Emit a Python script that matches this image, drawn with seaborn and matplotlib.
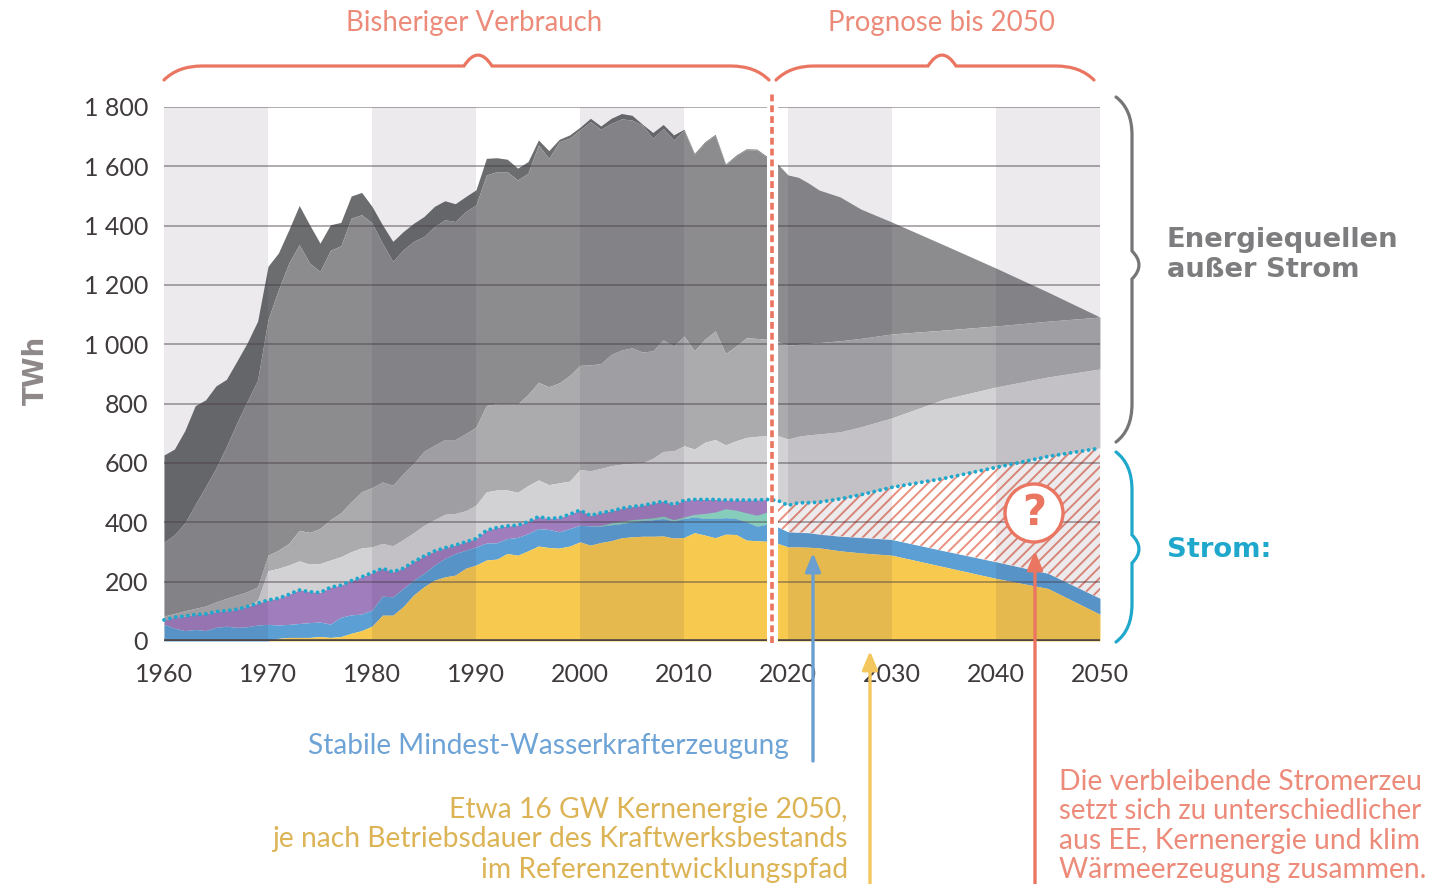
import numpy as np
import pandas as pd
import matplotlib
matplotlib.use('Agg')
import matplotlib.pyplot as plt
from matplotlib.path import Path
from matplotlib.patches import PathPatch, Circle
import seaborn as sns

# values, TWh, cumulative boundaries
hist_years = list(range(1960, 2019))
hist_total = [627, 647, 709, 793, 813, 860, 882, 943, 1005, 1078,
              1263, 1308, 1386, 1468, 1403, 1341, 1403, 1411, 1500, 1512,
              1465, 1403, 1347, 1380, 1408, 1431, 1465, 1484, 1474, 1498,
              1521, 1627, 1629, 1624, 1594, 1616, 1689, 1653, 1691, 1706,
              1732, 1762, 1736, 1762, 1778, 1772, 1742, 1714, 1741, 1706,
              1725, 1644, 1683, 1708, 1608, 1638, 1659, 1658, 1633]
hist_dark = [333, 358, 398, 460, 521, 583, 656, 735, 808, 880,
             1083, 1184, 1274, 1336, 1274, 1246, 1317, 1332, 1425, 1437,
             1409, 1341, 1280, 1319, 1347, 1364, 1397, 1420, 1414, 1448,
             1470, 1571, 1582, 1582, 1554, 1577, 1672, 1627, 1683, 1695,
             1723, 1751, 1725, 1745, 1760, 1756, 1739, 1695, 1728, 1689,
             1722, 1641, 1680, 1705, 1605, 1635, 1656, 1655, 1630]
hist_mid = [84, 93, 102, 110, 118, 132, 144, 155, 166, 183,
            289, 306, 329, 373, 366, 379, 409, 432, 469, 503,
            517, 536, 525, 564, 598, 640, 660, 679, 679, 699,
            721, 794, 800, 801, 798, 831, 872, 857, 870, 895,
            929, 931, 935, 966, 981, 988, 974, 978, 1015, 994,
            1028, 978, 1017, 1045, 969, 994, 1022, 1020, 1017]
hist_light = [71, 80, 84, 89, 91, 99, 102, 107, 116, 138,
              237, 245, 256, 270, 259, 261, 273, 284, 301, 314,
              317, 329, 321, 342, 365, 390, 409, 427, 430, 439,
              458, 503, 509, 509, 501, 524, 543, 527, 533, 539,
              578, 574, 582, 591, 596, 599, 600, 616, 639, 641,
              658, 647, 670, 679, 661, 675, 686, 690, 692]
hist_strom = [71, 80, 84, 89, 91, 99, 102, 107, 116, 127,
              138, 144, 157, 172, 166, 163, 181, 188, 203, 216,
              230, 245, 233, 245, 267, 286, 303, 314, 323, 334,
              345, 373, 382, 388, 390, 402, 419, 413, 415, 427,
              441, 423, 432, 438, 447, 453, 457, 464, 471, 460,
              474, 477, 477, 477, 475, 475, 475, 475, 477]
hist_hydro = [56, 43, 35, 39, 35, 46, 50, 46, 48, 54,
              56, 54, 56, 59, 62, 64, 57, 80, 88, 91,
              104, 151, 149, 177, 205, 228, 256, 278, 295, 306,
              317, 330, 331, 345, 349, 362, 379, 376, 368, 379,
              390, 388, 388, 392, 396, 402, 407, 409, 413, 405,
              413, 418, 413, 413, 416, 413, 402, 387, 394]
hist_nuclear = [0, 0, 0, 0, 0, 0, 0, 0, 0, 0,
                0, 9, 12, 12, 12, 15, 12, 15, 26, 35,
                50, 87, 87, 116, 155, 183, 205, 216, 222, 245,
                256, 273, 276, 295, 289, 304, 320, 315, 313, 320,
                334, 323, 332, 338, 348, 351, 353, 353, 354, 347,
                349, 365, 357, 348, 360, 359, 340, 338, 336]
renew_years = list(range(2000, 2019))
renew_top = [390, 388, 390, 398, 404, 409, 412, 415, 421, 409,
             418, 427, 430, 435, 446, 441, 432, 424, 435]

fc_years = [2019, 2020, 2021, 2022, 2023, 2025, 2027, 2030, 2035, 2040, 2045, 2050]
fc_total = [1608, 1571, 1563, 1543, 1520, 1497, 1456, 1412, 1335, 1257, 1176, 1092]
fc_mid = [1009, 997, 1000, 1003, 1006, 1012, 1020, 1035, 1048, 1062, 1078, 1092]
fc_light = [692, 681, 690, 695, 698, 705, 722, 752, 815, 856, 890, 917]
fc_strom = [474, 457, 466, 466, 468, 479, 493, 518, 548, 585, 622, 650]
fc_hydro = [385, 368, 366, 365, 360, 353, 349, 342, 304, 267, 228, 144]
fc_nuclear = [329, 317, 317, 316, 314, 304, 297, 289, 250, 211, 177, 90]

y_ticks = [0, 200, 400, 600, 800, 1000, 1200, 1400, 1600, 1800]
y_labels = ['0', '200', '400', '600', '800', '1 000', '1 200', '1 400', '1 600', '1 800']
x_ticks = [1960, 1970, 1980, 1990, 2000, 2010, 2020, 2030, 2040, 2050]
band_starts = [1960, 1980, 2000, 2020, 2040]

DARKEST = '#6b6d6f'
DARK = '#8c8c8e'
MID = '#ababad'
LIGHT = '#d2d1d3'
PURPLE = '#a07dbd'
TEAL = '#86cdbb'
BLUE = '#5b9fd4'
YELLOW = '#f7c94f'
RED = '#ea7560'
RED_TEXT = '#ec8b7a'
CYAN = '#1fa8cb'
TICK = '#3f3a3c'
W, H = 1429, 884

sns.set_theme(style='white')
plt.rcParams['font.family'] = ['Lato', 'DejaVu Sans']
plt.rcParams['hatch.linewidth'] = 1.4

fig = plt.figure(figsize=(W / 100, H / 100), dpi=100)
ax = fig.add_axes([164 / W, 1 - 641 / H, 936 / W, 534 / H])
ax.set_xlim(1960, 2050)
ax.set_ylim(0, 1800)

# historical stack
hist_layers = [(hist_total, hist_dark, DARKEST), (hist_dark, hist_mid, DARK),
               (hist_mid, hist_light, MID), (hist_light, hist_strom, LIGHT),
               (hist_strom, hist_hydro, PURPLE), (hist_hydro, hist_nuclear, BLUE),
               (hist_nuclear, [0] * len(hist_years), YELLOW)]
for upper, lower, color in hist_layers:
    ax.fill_between(hist_years, lower, upper, color=color, lw=0, zorder=1)
ax.fill_between(renew_years, hist_hydro[-len(renew_years):], renew_top, color=TEAL, lw=0, zorder=1.1)

# forecast stack
fc_layers = [(fc_total, fc_mid, DARK), (fc_mid, fc_light, MID), (fc_light, fc_strom, LIGHT),
             (fc_hydro, fc_nuclear, BLUE), (fc_nuclear, [0] * len(fc_years), YELLOW)]
for upper, lower, color in fc_layers:
    ax.fill_between(fc_years, lower, upper, color=color, lw=0, zorder=1)
ax.fill_between(fc_years, fc_hydro, fc_strom, facecolor='white', edgecolor='#e88f7e',
                hatch='///', lw=0, zorder=1)

# alternating decades lie over the areas
for start in band_starts:
    ax.axvspan(start, start + 10, color='#30203a', alpha=0.09, lw=0, zorder=2)

for tick in y_ticks[1:]:
    ax.axhline(tick, color='#463c46', alpha=0.5, lw=1.2, zorder=3)
ax.axhline(0, color='#4d4444', lw=2.6, zorder=3)

# gap between history and forecast
ax.axvspan(2018, 2019, color='white', lw=0, zorder=4)

strom_df = pd.DataFrame({'year': hist_years + fc_years, 'strom': hist_strom + fc_strom})
sns.lineplot(data=strom_df, x='year', y='strom', ax=ax, color=CYAN, lw=2.8, estimator=None,
             linestyle=(0, (0.01, 1.55)), dash_capstyle='round', zorder=5, clip_on=False)

ax.axvline(2018.5, ymin=-0.003, ymax=1.03, color=RED, lw=2.6, linestyle=(0, (1.9, 1.1)),
           zorder=6, clip_on=False)

ax.set_xticks(x_ticks)
ax.set_yticks(y_ticks)
ax.set_yticklabels(y_labels)
ax.tick_params(axis='both', length=0, labelsize=18, labelcolor=TICK)
ax.tick_params(axis='x', pad=15.7)
ax.tick_params(axis='y', pad=11.5)
ax.set_xlabel('')
ax.set_ylabel('')
sns.despine(ax=ax, left=True, bottom=True)

# annotations in picture pixels
ov = fig.add_axes([0, 0, 1, 1], zorder=10)
ov.set_xlim(0, W)
ov.set_ylim(H, 0)
ov.set_axis_off()
ov.patch.set_alpha(0)


def curve(points, color, lw=2.3):
    codes = [Path.MOVETO] + [Path.CURVE3 if p[2] else Path.LINETO for p in points[1:]]
    verts = [(p[0], p[1]) for p in points]
    ov.add_patch(PathPatch(Path(verts, codes), fc='none', ec=color, lw=lw, capstyle='round'))


def top_brace(x0, x1, tip, color=RED):
    y0, y1 = 80, 66
    curve([(x0, y0, 0), (x0 + 14, y1, 1), (x0 + 38, y1, 1), (tip - 14, y1, 0), (tip, y1 - 22, 1),
           (tip + 14, y1, 1), (x1 - 38, y1, 0), (x1 - 14, y1, 1), (x1, y0, 1)], color)


def side_brace(y0, y1, tip, color):
    x = 1132
    curve([(1116, y0, 0), (x, y0 + 12, 1), (x, y0 + 38, 1), (x, tip - 14, 0), (1146, tip, 1),
           (x, tip + 14, 1), (x, y1 - 38, 0), (x, y1 - 12, 1), (1116, y1, 1)], color)


top_brace(164, 769, 478)
top_brace(776, 1094, 942)
side_brace(97, 442, 265, '#767678')
side_brace(452, 642, 549, CYAN)


def arrow(x, y_tail, y_tip, color):
    ov.annotate('', xy=(x, y_tip), xytext=(x, y_tail),
                arrowprops=dict(arrowstyle='-|>,head_length=0.62,head_width=0.26', color=color,
                                lw=2.4, shrinkA=0, shrinkB=0, mutation_scale=18))


arrow(813, 761, 553, '#6b9fcf')
arrow(870, 884, 651, '#f3c75e')
arrow(1035, 884, 551, RED)

ov.add_patch(Circle((1034, 513), 29, fc='white', ec=RED, lw=2.4))
ov.text(1034, 513, '?', color=RED, fontsize=30, fontweight='bold', ha='center', va='center',
        family='DejaVu Sans')

ov.text(474, 22.5, 'Bisheriger Verbrauch', color=RED_TEXT, fontsize=19.9, ha='center', va='center')
ov.text(942, 22.5, 'Prognose bis 2050', color=RED_TEXT, fontsize=19.9, ha='center', va='center')

ov.text(36, 370, 'TWh', color='#8e8889', fontsize=20, fontweight='bold', rotation=90,
        ha='center', va='center', family='DejaVu Sans')
for label, y in [('Energiequellen', 240), ('außer Strom', 270)]:
    ov.text(1167, y, label, color='#7d7d7f', fontsize=19.7, fontweight='bold', va='center',
            family='DejaVu Sans')
ov.text(1167, 550, 'Strom:', color=CYAN, fontsize=19.7, fontweight='bold', va='center',
        family='DejaVu Sans')

ov.text(789, 746, 'Stabile Mindest-Wasserkrafterzeugung', color='#6ea3d6', fontsize=20.2,
        ha='right', va='center')
for label, y in [('Etwa 16 GW Kernenergie 2050,', 810),
                 ('je nach Betriebsdauer des Kraftwerksbestands', 839),
                 ('im Referenzentwicklungspfad', 870)]:
    ov.text(848, y, label, color='#dcb456', fontsize=20.3, ha='right', va='center')
# only what the cropped reference shows of these lines
for label, y, size in [('Die verbleibende Stromerzeu', 782, 20.3),
                       ('setzt sich zu unterschiedlicher', 811, 19.8),
                       ('aus EE, Kernenergie und klim', 841, 20.3),
                       ('Wärmeerzeugung zusammen.', 870, 20.3)]:
    ov.text(1059, y, label, color=RED_TEXT, fontsize=size, va='center')

fig.savefig('out.png', dpi=100, facecolor='white')
